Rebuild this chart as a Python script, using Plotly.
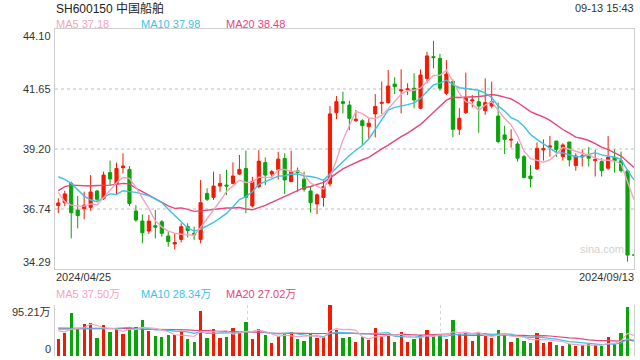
import plotly.graph_objects as go
import pandas as pd

# ---------------- data ----------------
opens = [36.88, 37.00, 37.79, 36.70, 36.75, 36.81, 37.48, 37.18, 38.23, 37.76,
         38.43, 38.36, 36.66, 36.25, 35.84, 36.06, 36.22, 35.64, 35.31, 35.50,
         36.02, 35.75, 35.50, 37.38, 37.22, 37.68, 37.72, 37.79, 38.17, 38.40,
         36.87, 37.66, 38.64, 38.17, 38.34, 38.81, 37.86, 38.31, 37.96, 37.48,
         36.95, 37.21, 37.77, 40.68, 41.13, 40.99, 40.35, 40.35, 40.11, 40.63,
         41.06, 41.09, 41.85, 41.57, 41.61, 41.68, 40.86, 42.08, 42.97, 42.90,
         41.47, 41.95, 40.00, 40.68, 41.16, 41.13, 40.76, 40.95, 40.54, 39.77,
         39.56, 39.40, 38.88, 38.09, 38.38, 39.16, 39.27, 39.52, 38.88, 39.48,
         38.52, 38.87, 38.95, 38.72, 38.68, 38.41, 38.86, 38.71, 38.30, 34.86]
highs = [37.18, 37.49, 37.86, 37.27, 37.45, 38.13, 37.52, 38.27, 38.72, 38.64,
         39.02, 38.50, 36.90, 36.52, 36.50, 36.70, 36.29, 35.82, 35.75, 36.16,
         36.16, 36.02, 37.93, 37.59, 38.27, 38.17, 38.34, 38.65, 38.95, 39.13,
         38.06, 39.15, 38.85, 38.34, 39.08, 39.02, 39.13, 38.44, 38.27, 37.66,
         37.38, 37.96, 40.95, 41.36, 41.54, 41.17, 40.79, 40.41, 40.45, 41.44,
         41.95, 42.43, 42.13, 42.45, 41.88, 42.29, 42.45, 43.17, 43.62, 43.08,
         42.83, 42.04, 40.86, 42.32, 41.40, 41.58, 42.08, 41.95, 41.09, 40.14,
         40.00, 39.50, 38.95, 38.54, 39.46, 39.59, 39.73, 39.52, 39.43, 39.48,
         39.02, 39.18, 39.27, 39.16, 38.82, 39.73, 39.18, 39.09, 38.30, 34.86]
lows = [36.57, 36.86, 35.54, 35.95, 36.32, 36.67, 37.04, 37.11, 37.72, 37.31,
        38.20, 36.86, 36.22, 35.34, 35.72, 35.54, 35.61, 35.20, 35.09, 35.37,
        35.58, 35.48, 35.34, 37.07, 37.11, 37.45, 37.31, 37.75, 38.13, 36.57,
        36.81, 37.59, 37.72, 38.06, 37.95, 37.35, 37.86, 37.45, 37.45, 36.59,
        36.53, 36.84, 37.66, 40.41, 40.65, 39.97, 40.31, 39.36, 39.63, 39.67,
        40.63, 41.06, 41.44, 40.65, 41.40, 40.86, 40.82, 41.88, 42.49, 41.58,
        41.40, 39.67, 39.77, 40.63, 40.90, 39.86, 40.59, 40.86, 39.43, 38.99,
        39.25, 38.68, 38.00, 37.63, 38.34, 38.72, 38.88, 38.86, 38.72, 38.48,
        38.31, 38.48, 38.48, 38.07, 38.07, 38.34, 38.23, 38.23, 34.59, 34.86]
closes = [36.99, 37.36, 36.59, 36.47, 36.90, 37.44, 37.14, 38.13, 37.97, 38.40,
          38.50, 36.97, 36.29, 35.77, 36.25, 36.00, 35.75, 35.41, 35.37, 36.02,
          35.86, 35.68, 37.00, 37.14, 37.68, 37.79, 37.68, 38.09, 38.36, 37.22,
          37.86, 38.70, 38.13, 38.27, 38.78, 37.93, 38.27, 38.23, 37.55, 37.00,
          37.32, 37.66, 40.63, 41.13, 41.06, 40.45, 40.41, 40.15, 40.25, 40.93,
          41.10, 41.77, 41.74, 41.61, 41.65, 41.20, 42.22, 43.00, 42.93, 41.68,
          42.26, 40.00, 40.45, 41.27, 41.20, 40.95, 41.09, 41.13, 39.50, 39.59,
          39.59, 38.82, 38.03, 37.98, 39.22, 39.22, 39.32, 39.18, 39.36, 38.75,
          38.91, 38.91, 38.82, 38.77, 38.31, 38.86, 38.72, 38.31, 34.86, 34.86]
volumes = [31.7, 43.6, 80.9, 50.4, 59.7, 62.2, 33.6, 57.9, 45.4, 51.6,
           41.7, 52.9, 54.1, 67.2, 47.3, 37.3, 35.5, 39.2, 39.2, 45.4,
           31.7, 26.8, 84.6, 33.6, 50.4, 33.6, 35.5, 52.3, 44.2, 63.5,
           31.7, 50.4, 39.2, 24.9, 37.3, 42.3, 45.4, 31.7, 28.6, 42.3,
           34.2, 34.8, 95.21, 48.5, 33.6, 35.5, 26.8, 34.8, 29.9, 52.3,
           37.3, 41.1, 26.8, 45.4, 26.8, 31.7, 38.6, 48.5, 37.3, 42.0,
           31.1, 67.2, 41.1, 42.3, 28.0, 43.6, 37.3, 33.0, 48.5, 39.2,
           26.8, 33.0, 28.6, 24.9, 42.3, 24.9, 26.8, 20.5, 18.7, 22.4,
           18.7, 20.5, 21.8, 20.5, 18.7, 34.8, 22.4, 43.6, 90.9, 0.0]

# moving-average values before enough history exists
ma5_head = [37.41, 37.04, 36.90, 36.86]
ma10_head = [38.06, 37.95, 37.79, 37.52, 37.27, 37.11, 37.04, 37.22, 37.36]
ma20_head = [37.49, 37.66, 37.72, 37.70, 37.69, 37.68, 37.70, 37.70, 37.72, 37.75,
             37.79, 37.77, 37.59, 37.45, 37.31, 37.15, 37.00, 36.87, 36.77]
vma5_head = [47.0, 45.0, 50.0, 52.0]
vma10_head = [50.0, 50.0, 51.0, 51.0, 51.0, 51.0, 51.0, 51.0, 51.0]
vma20_head = [52.0, 52.0, 52.0, 52.0, 52.0, 52.0, 52.0, 52.0, 52.0, 51.0,
              51.0, 51.0, 51.0, 50.0, 50.0, 50.0, 49.0, 49.0, 49.0]

price_ticks = [44.10, 41.65, 39.20, 36.74, 34.29]
price_tick_text = ["44.10", "41.65", "39.20", "36.74", "34.29"]
vol_max = 95.21
vol_tick_text = ["95.21万", "0"]
date_labels = ["2024/04/25", "2024/09/13"]
title_text = "SH600150 中国船舶"
time_text = "09-13 15:43"
ma_legend = ["MA5 37.18", "MA10 37.98", "MA20 38.48"]
vol_legend = ["MA5 37.50万", "MA10 28.34万", "MA20 27.02万"]
vol_vgrid = [29.3, 59.1]

# ---------------- styles ----------------
W, H = 640, 360
RED = "#f21a00"
GREEN = "#0aa30a"
C_MA5 = "#f7a3bf"
C_MA10 = "#3cc2e6"
C_MA20 = "#e8457c"
FONT = "Arial, Liberation Sans, Noto Sans CJK SC, sans-serif"
X0, X1 = 55, 634
MAIN_TOP, MAIN_BOT = 29, 269
VOL_TOP, VOL_BOT = 305, 356


def ma(values, n, head):
    r = pd.Series(values).rolling(n).mean().tolist()
    return head + r[len(head):]


idx = list(range(len(closes)))
ma5 = ma(closes, 5, ma5_head)
ma10 = ma(closes, 10, ma10_head)
ma20 = ma(closes, 20, ma20_head)
vma5 = ma(volumes, 5, vma5_head)
vma10 = ma(volumes, 10, vma10_head)
vma20 = ma(volumes, 20, vma20_head)
vol_colors = [RED if c >= o else GREEN for o, c in zip(opens, closes)]

fig = go.Figure()
fig.add_trace(go.Candlestick(
    x=idx, open=opens, high=highs, low=lows, close=closes,
    increasing=dict(line=dict(color=RED, width=1), fillcolor=RED),
    decreasing=dict(line=dict(color=GREEN, width=1), fillcolor=GREEN),
    whiskerwidth=0, showlegend=False, hoverinfo="skip",
    xaxis="x", yaxis="y"))
for vals, col in [(ma20, C_MA20), (ma10, C_MA10), (ma5, C_MA5)]:
    fig.add_trace(go.Scatter(x=idx, y=vals, mode="lines",
                             line=dict(color=col, width=1.4),
                             showlegend=False, hoverinfo="skip",
                             xaxis="x", yaxis="y"))

fig.add_trace(go.Bar(x=idx, y=volumes, marker=dict(color=vol_colors, line=dict(width=0)),
                     width=0.5, showlegend=False, hoverinfo="skip",
                     xaxis="x2", yaxis="y2"))
for vals, col in [(vma20, C_MA20), (vma10, C_MA10), (vma5, C_MA5)]:
    fig.add_trace(go.Scatter(x=idx, y=vals, mode="lines",
                             line=dict(color=col, width=1.2),
                             showlegend=False, hoverinfo="skip",
                             xaxis="x2", yaxis="y2"))


def px_x(v):
    return v / W


def px_y(v):
    return 1 - v / H


xrange = [-0.51, len(closes) - 1]
fig.update_layout(
    width=W, height=H,
    margin=dict(l=0, r=0, t=0, b=0),
    paper_bgcolor="white", plot_bgcolor="white",
    font=dict(family=FONT, size=11, color="#333333"),
    bargap=0,
    xaxis=dict(domain=[px_x(X0), px_x(X1)], range=xrange, anchor="y",
               showticklabels=False, showgrid=False, zeroline=False,
               showline=True, mirror=True, linecolor="#cfcfcf", linewidth=1,
               rangeslider=dict(visible=False), ticks=""),
    yaxis=dict(domain=[px_y(MAIN_BOT), px_y(MAIN_TOP)],
               range=[price_ticks[-1], price_ticks[0]], anchor="x",
               tickvals=price_ticks[1:-1], showticklabels=False,
               showgrid=True, gridcolor="#dedede", griddash="dot", gridwidth=1.5,
               zeroline=False, showline=True, mirror=True,
               linecolor="#cfcfcf", linewidth=1, ticks=""),
    xaxis2=dict(domain=[px_x(X0), px_x(X1)], range=xrange, anchor="y2",
                tickvals=vol_vgrid, showticklabels=False,
                showgrid=True, gridcolor="#d6d6d6", griddash="dot", gridwidth=1,
                zeroline=False, showline=False, ticks=""),
    yaxis2=dict(domain=[px_y(VOL_BOT), px_y(VOL_TOP)], range=[0, vol_max],
                anchor="x2", tickvals=[vol_max], showticklabels=False,
                showgrid=True, gridcolor="#d6d6d6", griddash="dot", gridwidth=1,
                zeroline=False, showline=True, mirror=True,
                linecolor="#cfcfcf", linewidth=1, ticks=""),
)

anns = []


def ann(text, x, y, xanchor="left", yanchor="middle", color="#333333", size=11,
        xref="paper", yref="paper"):
    anns.append(dict(text=text, x=x, y=y, xref=xref, yref=yref,
                     xanchor=xanchor, yanchor=yanchor, showarrow=False,
                     font=dict(family=FONT, size=size, color=color),
                     borderpad=0))


ann(title_text, px_x(55), px_y(8), size=12, color="#222222")
ann(time_text, px_x(635), px_y(8), xanchor="right", color="#333333")
for t, px_, col in zip(ma_legend, [55, 140, 225], [C_MA5, C_MA10, C_MA20]):
    ann(t, px_x(px_), px_y(24), color=col)
for t, px_, col in zip(vol_legend, [55, 140, 225], [C_MA5, C_MA10, C_MA20]):
    ann(t, px_x(px_), px_y(294), color=col)
for i, (v, t) in enumerate(zip(price_ticks, price_tick_text)):
    ya = "top" if i == 0 else ("bottom" if i == len(price_ticks) - 1 else "middle")
    ann(t, px_x(52), v, xanchor="right", yanchor=ya, yref="y")
ann(vol_tick_text[0], px_x(52), vol_max, xanchor="right", yanchor="top", yref="y2")
ann(vol_tick_text[1], px_x(52), 0, xanchor="right", yanchor="bottom", yref="y2")
ann(date_labels[0], px_x(55), px_y(277))
ann(date_labels[1], px_x(635), px_y(277), xanchor="right")
ann("sina.com", px_x(602), px_y(249), xanchor="center", color="#d2d2d2", size=11)
fig.update_layout(annotations=anns)

fig.write_html("out.html", config={"displayModeBar": False},
               post_script="document.body.style.margin='0';document.body.style.overflow='hidden';")
